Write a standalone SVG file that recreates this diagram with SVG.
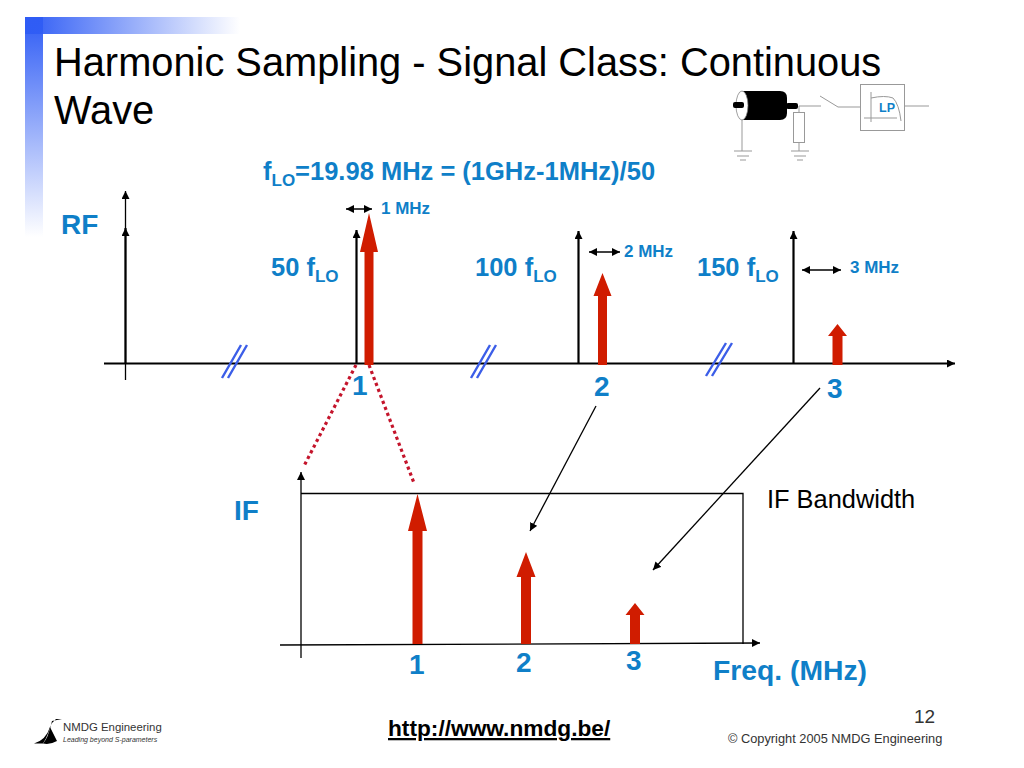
<svg xmlns="http://www.w3.org/2000/svg" width="1024" height="768" viewBox="0 0 1024 768">
<defs>
<linearGradient id="gh" x1="0" y1="0" x2="1" y2="0"><stop offset="0" stop-color="#2f5cf5"/><stop offset="1" stop-color="#2f5cf5" stop-opacity="0"/></linearGradient>
<linearGradient id="gv" x1="0" y1="0" x2="0" y2="1"><stop offset="0" stop-color="#2f5cf5"/><stop offset="1" stop-color="#2f5cf5" stop-opacity="0"/></linearGradient>
<marker id="ah" markerUnits="userSpaceOnUse" markerWidth="10" markerHeight="10" refX="8" refY="4" orient="auto"><path d="M0 0L8 4L0 8Z" fill="#000"/></marker>
<marker id="as" markerUnits="userSpaceOnUse" markerWidth="10" markerHeight="10" refX="0" refY="4" orient="auto"><path d="M8 0L0 4L8 8Z" fill="#000"/></marker>
</defs>
<style>
text{font-family:"Liberation Sans",Arial,sans-serif}
.b{fill:#0f7fc8;font-weight:bold}
.l{font-size:25.500px}.s{font-size:17px}.n{font-size:28px}
.ax{stroke:#000;stroke-width:1.8;fill:none}
.sp{stroke:#000;stroke-width:2.2;fill:none;marker-end:url(#ah)}
.dim{stroke:#000;stroke-width:1.5;fill:none;marker-end:url(#ah);marker-start:url(#as)}
.th{stroke:#000;stroke-width:1.3;fill:none;marker-end:url(#ah)}
.red{fill:#d01c00}
.br{stroke:#3c5ee8;stroke-width:2.4;fill:none}
.dot{stroke:#c4142b;stroke-width:3.2;stroke-dasharray:3.2 3.2;fill:none}
.g{stroke:#999;stroke-width:1;fill:none}
</style>
<rect x="25" y="17" width="215" height="17" fill="url(#gh)"/>
<rect x="25" y="17" width="18" height="220" fill="url(#gv)"/>
<g id="title"><text x="54" y="76" font-size="39.800" fill="#000">Harmonic Sampling - Signal Class: Continuous</text>
<text x="54" y="124" font-size="39.800" fill="#000">Wave</text></g>
<text x="263" y="180" class="b" font-size="25.500">f<tspan font-size="17" dy="6">LO</tspan><tspan dy="-6">=19.98 MHz = (1GHz-1MHz)/50</tspan></text>
<g id="connectors">
<path class="ax" d="M104 363.500H955" marker-end="url(#ah)"/>
<path class="th" stroke-width="1.6" d="M125.500 380V191"/>
<path class="sp" d="M125.500 363V228"/>
<path class="sp" d="M356.500 363V230"/>
<path class="sp" d="M578.500 363V231"/>
<path class="sp" d="M793.500 363V231"/>
<path class="dim" d="M346 209H372"/>
<path class="dim" d="M589 252H620"/>
<path class="dim" d="M802 270H841"/>
<path class="br" d="M222 378L241 345M228 378L247 345"/>
<path class="br" d="M471 378L490 345M477 378L496 345"/>
<path class="br" d="M706 376L726 343M712 376L732 343"/>
<path class="dot" d="M356 365L304 466"/>
<path class="dot" d="M369 365L414 483"/>
<path class="th" d="M596 406L530 531"/>
<path class="th" d="M820 388L653 570"/>
<path class="th" d="M301 658V472"/>
<path class="ax" style="stroke-width:1.3" d="M301 493.500H743V644"/>
<path class="th" d="M280 645L760 643"/>
</g>
<g id="spikes-red">
<path class="red" d="M364.500 365V252H360L369 213L378 252H373.500V365Z"/>
<path class="red" d="M598 365V296H593.500L602.500 273L611.500 296H607V365Z"/>
<path class="red" d="M832.500 365V336H828L837.500 324L847 336H842.500V365Z"/>
<path class="red" d="M412.500 644V531H408L417.500 494L427 531H422.500V644Z"/>
<path class="red" d="M521 644V577H516.500L526 552L535.500 577H531V644Z"/>
<path class="red" d="M630 644V615H625.500L635 603L644.500 615H640V644Z"/>
</g>
<g id="labels">
<text x="61" y="234" class="b" font-size="28">RF</text>
<text x="234" y="520" class="b" font-size="28">IF</text>
<text x="271" y="276" class="b l">50 f<tspan font-size="17" dy="6">LO</tspan></text>
<text x="475" y="276" class="b l">100 f<tspan font-size="17" dy="6">LO</tspan></text>
<text x="697" y="276" class="b l">150 f<tspan font-size="17" dy="6">LO</tspan></text>
<text x="381" y="214" class="b s">1 MHz</text>
<text x="624" y="257" class="b s">2 MHz</text>
<text x="850" y="273" class="b s">3 MHz</text>
<text x="352" y="395" class="b n">1</text>
<text x="594" y="396" class="b n">2</text>
<text x="827" y="398" class="b n">3</text>
<text x="409" y="674" class="b n">1</text>
<text x="516" y="672" class="b n">2</text>
<text x="626" y="670" class="b n">3</text>
<text x="713" y="680" class="b" font-size="28.300">Freq. (MHz)</text>
<text x="767" y="508" font-size="25.400" fill="#000">IF Bandwidth</text>
</g>
<g id="circuit">
<path d="M742 91H780Q787 91 787 98V113Q787 120 780 120H742Z" fill="#000"/>
<ellipse cx="742" cy="105.500" rx="6" ry="14.500" fill="#fff" stroke="#777" stroke-width="0.7"/>
<rect x="733" y="102" width="11" height="6" rx="2" fill="#000"/>
<rect x="786" y="103" width="12" height="6" rx="2" fill="#000"/>
<path class="g" d="M742 120V151M734 151H752M737 156H749M740 160H746M799 106H821M799 106V112M799 142V151M791 151H809M794 156H806M797 160H803M820 96L838 107H860M904 106H929"/>
<rect class="g" x="793.500" y="112.500" width="11" height="30"/>
<rect class="g" x="860.500" y="84.500" width="44" height="46"/>
<path class="g" d="M871 92V122M864 118H897M871 98Q885 95 893 98Q899 104 901 121"/>
<text x="879" y="112" class="b" font-size="12.500">LP</text>
</g>
<g id="footer">
<path d="M34 743.500H43Q49 734 52 721L62 719H56Q52 722 50 727Q46 740 34 743.500Z" fill="#000"/>
<path d="M43 743.500Q49 736 50 727L57 741Q50 745 43 743.500Z" fill="#000"/>
<text x="63" y="731" font-size="11.400" fill="#333">NMDG Engineering</text>
<text x="63" y="742" font-size="7" font-style="italic" fill="#333">Leading beyond S-parameters</text>
<text x="388" y="736" font-size="22.700" font-weight="bold" fill="#000" text-decoration="underline">http://www.nmdg.be/</text>
<text x="914" y="723" font-size="19" fill="#333">12</text>
<text x="728" y="743" font-size="12.800" fill="#333">© Copyright 2005 NMDG Engineering</text>
</g>
</svg>
